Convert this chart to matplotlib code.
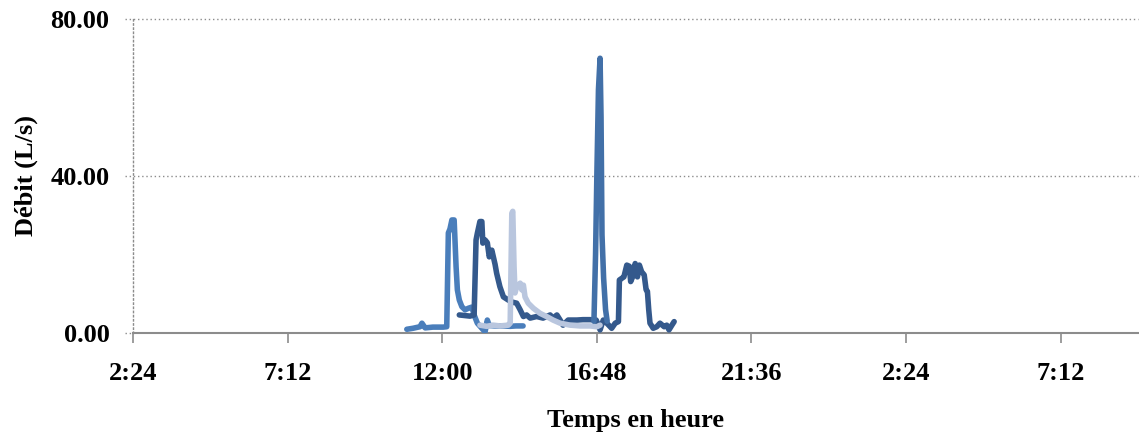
import matplotlib
matplotlib.use("Agg")
import matplotlib.pyplot as plt
from matplotlib.transforms import blended_transform_factory

# Time in hours (decimal), flow in L/s
a_time = [10.90, 11.09, 11.31, 11.37, 11.47, 11.71, 12.03, 12.14, 12.19, 12.24, 12.30, 12.37,
          12.43, 12.47, 12.53, 12.61, 12.71, 12.81, 12.92, 12.99, 13.09, 13.23, 13.33, 13.40,
          13.46, 13.64, 13.89, 14.11, 14.29, 14.51]
a_flow = [0.95, 1.2, 1.6, 2.5, 1.3, 1.5, 1.5, 1.6, 25.5, 26.5, 28.8, 28.8,
          16.9, 11.0, 8.4, 6.7, 5.9, 6.3, 6.6, 4.6, 2.5, 1.2, 0.3, 3.3,
          1.9, 1.8, 1.8, 1.7, 1.8, 1.8]

b_time = [12.53, 12.86, 12.99, 13.05, 13.09, 13.17, 13.23, 13.26, 13.33, 13.40, 13.46, 13.54,
          13.64, 13.69, 13.74, 13.79, 13.90, 14.05, 14.16, 14.31, 14.42, 14.52, 14.62, 14.73,
          14.93, 15.13, 15.35, 15.44, 15.56, 15.66, 15.75, 15.91, 16.18, 16.37, 16.59, 16.78,
          16.90, 17.00, 17.11, 17.26, 17.37, 17.47, 17.50, 17.57, 17.64, 17.73, 17.81, 17.85,
          17.91, 17.99, 18.06, 18.12, 18.19, 18.27, 18.33, 18.37, 18.41, 18.45, 18.55, 18.66,
          18.76, 18.89, 18.97, 19.04, 19.13, 19.20]
b_flow = [4.6, 4.3, 4.6, 23.7, 25.4, 28.4, 28.4, 22.9, 23.7, 23.0, 19.4, 21.1,
          17.5, 15.2, 13.5, 11.8, 9.2, 8.4, 7.9, 7.6, 5.9, 4.2, 4.6, 3.8,
          4.2, 3.8, 4.6, 3.8, 4.6, 3.3, 2.0, 3.3, 3.3, 3.4, 3.4, 3.3,
          0.8, 3.3, 2.5, 1.2, 2.5, 2.9, 13.5, 13.9, 14.3, 17.3, 17.0, 13.1,
          14.3, 17.7, 14.3, 17.3, 15.6, 14.8, 11.0, 10.6, 6.0, 2.5, 1.2, 1.6,
          2.5, 1.6, 2.0, 0.8, 2.0, 2.9]

c_time = [13.17, 13.38, 13.58, 13.79, 14.05, 14.11, 14.16, 14.19, 14.23, 14.26, 14.31, 14.42,
          14.47, 14.52, 14.57, 14.67, 14.83, 15.04, 15.24, 15.44, 15.66, 15.97, 16.28, 16.59,
          16.80, 16.90]
c_flow = [2.0, 1.7, 2.0, 1.8, 2.0, 2.5, 30.5, 31.0, 16.9, 10.2, 11.8, 12.7,
          11.0, 12.2, 9.2, 7.6, 6.3, 5.0, 4.2, 3.3, 2.5, 2.0, 1.8, 1.8,
          1.6, 2.0]

d_time = [16.71, 16.76, 16.80, 16.85, 16.90, 16.93, 16.96, 17.01, 17.07, 17.12]
d_flow = [3.0, 20.0, 40.0, 62.0, 70.0, 55.0, 25.0, 14.0, 6.0, 3.0]

tick_hours = [2.4, 7.2, 12.0, 16.8, 21.6, 26.4, 31.2]
tick_labels = ["2:24", "7:12", "12:00", "16:48", "21:36", "2:24", "7:12"]
y_ticks = [0, 40, 80]
y_labels = ["0.00", "40.00", "80.00"]

plt.rcParams['font.family'] = ['Liberation Serif', 'DejaVu Serif']
plt.rcParams['font.weight'] = 'bold'

fig = plt.figure(figsize=(11.39, 4.34), dpi=100)
ax = fig.add_axes([133/1139, 1-333/434, (1138-133)/1139, (333-19)/434])

lw = 4.0
kw = dict(lw=lw, solid_capstyle='round', solid_joinstyle='round')
ax.plot(a_time, a_flow, color='#4a7ebb', zorder=3, **kw)
ax.plot(b_time, b_flow, color='#34598c', zorder=3, **kw)
ax.plot(c_time, c_flow, color='#b9c6de', zorder=4, **kw)
ax.plot(d_time, d_flow, color='#4270a8', zorder=5, **kw)

ax.set_xlim(2.4, 33.6)
ax.set_ylim(0, 80)

grid_col = '#8c8c8c'
trans = blended_transform_factory(ax.transAxes, ax.transData)
for yv in [40, 80]:
    ax.plot([-0.008, 1.0], [yv, yv], transform=trans, color=grid_col, lw=1.0,
            linestyle=(0, (1, 2)), clip_on=False, zorder=1)
ax.plot([-0.008, 0.0], [0, 0], transform=trans, color=grid_col, lw=1.0,
        linestyle=(0, (1, 2)), clip_on=False, zorder=1)

for s in ['top', 'right']:
    ax.spines[s].set_visible(False)
ax.spines['left'].set_color(grid_col)
ax.spines['left'].set_linestyle((0, (1, 2)))
ax.spines['left'].set_linewidth(1.0)
ax.spines['bottom'].set_color('#8c8c8c')
ax.spines['bottom'].set_linewidth(1.5)

fs = 19
ax.set_xticks(tick_hours)
ax.set_xticklabels(tick_labels, fontsize=fs, fontweight='bold')
ax.set_yticks(y_ticks)
ax.set_yticklabels(y_labels, fontsize=fs, fontweight='bold')
ax.tick_params(axis='x', direction='out', length=7, width=1.2, color='#8c8c8c', pad=14)
ax.tick_params(axis='y', length=0, pad=17)

ax.set_xlabel("Temps en heure", fontsize=fs, fontweight='bold', labelpad=17)
ax.set_ylabel("Débit (L/s)", fontsize=fs, fontweight='bold', labelpad=9)

fig.savefig("out.png", dpi=100)
